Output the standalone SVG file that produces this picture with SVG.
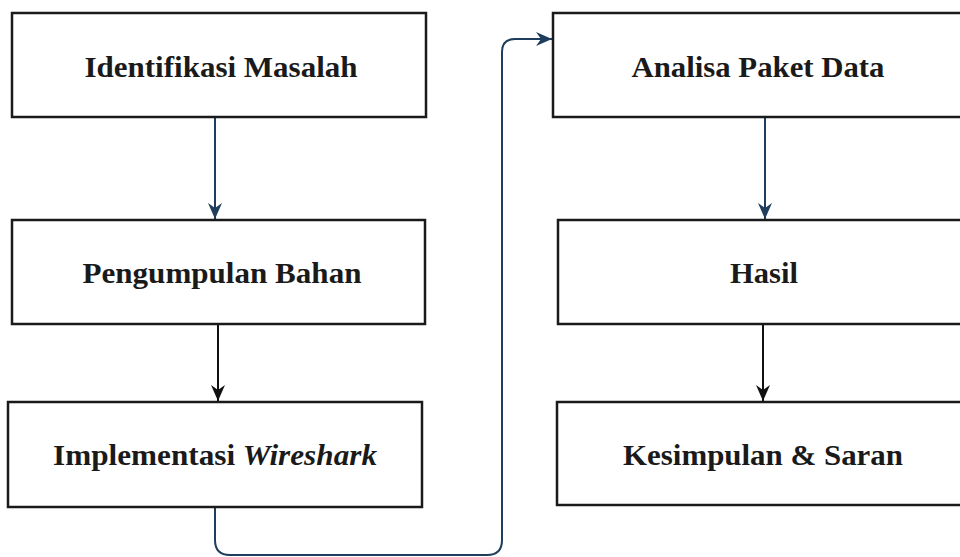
<svg xmlns="http://www.w3.org/2000/svg" width="960" height="557" viewBox="0 0 960 557">
<style>
.box{fill:#ffffff;stroke:#1a1a1a;stroke-width:2.5}
.lbl{font-family:"Liberation Serif","Times New Roman",serif;font-weight:bold;font-size:30px;fill:#1a1a1a;text-anchor:middle}
.blue{fill:none;stroke:#1f3d5c;stroke-width:2}
.black{fill:none;stroke:#111111;stroke-width:2}
</style>
<defs>
<marker id="ab" viewBox="0 0 16 14" refX="16" refY="7" markerWidth="16" markerHeight="14" markerUnits="userSpaceOnUse" orient="auto">
<path d="M0,0 L16,7 L0,14 L5,7 z" fill="#1f3d5c"/>
</marker>
<marker id="ak" viewBox="0 0 16 14" refX="16" refY="7" markerWidth="16" markerHeight="14" markerUnits="userSpaceOnUse" orient="auto">
<path d="M0,0 L16,7 L0,14 L5,7 z" fill="#111111"/>
</marker>
</defs>
<rect width="960" height="557" fill="#ffffff"/>
<g id="connectors">
<path class="blue" d="M215,117 V219" marker-end="url(#ab)"/>
<path class="black" d="M218,324 V401" marker-end="url(#ak)"/>
<path class="blue" d="M765,117 V219" marker-end="url(#ab)"/>
<path class="black" d="M763,324 V401" marker-end="url(#ak)"/>
<path class="blue" d="M215,507 V540 Q215,555 230,555 H487 Q502,555 502,540 V52 Q502,39 515,39 H552" marker-end="url(#ab)"/>
</g>
<g id="n1">
<rect class="box" x="12" y="13" width="414" height="104"/>
<text class="lbl" x="221" y="77" textLength="273" lengthAdjust="spacingAndGlyphs">Identifikasi Masalah</text>
</g>
<g id="n2">
<rect class="box" x="12" y="220" width="413" height="104"/>
<text class="lbl" x="222" y="283" textLength="279" lengthAdjust="spacingAndGlyphs">Pengumpulan Bahan</text>
</g>
<g id="n3">
<rect class="box" x="8" y="402" width="414" height="105"/>
<text class="lbl" x="215" y="465" textLength="324" lengthAdjust="spacingAndGlyphs">Implementasi <tspan font-style="italic">Wireshark</tspan></text>
</g>
<g id="n4">
<rect class="box" x="553" y="13" width="420" height="104"/>
<text class="lbl" x="758" y="77" textLength="253" lengthAdjust="spacingAndGlyphs">Analisa Paket Data</text>
</g>
<g id="n5">
<rect class="box" x="558" y="220" width="415" height="104"/>
<text class="lbl" x="764" y="283" textLength="68" lengthAdjust="spacingAndGlyphs">Hasil</text>
</g>
<g id="n6">
<rect class="box" x="557" y="402" width="416" height="103"/>
<text class="lbl" x="763" y="465" textLength="280" lengthAdjust="spacingAndGlyphs">Kesimpulan &amp; Saran</text>
</g>
</svg>
